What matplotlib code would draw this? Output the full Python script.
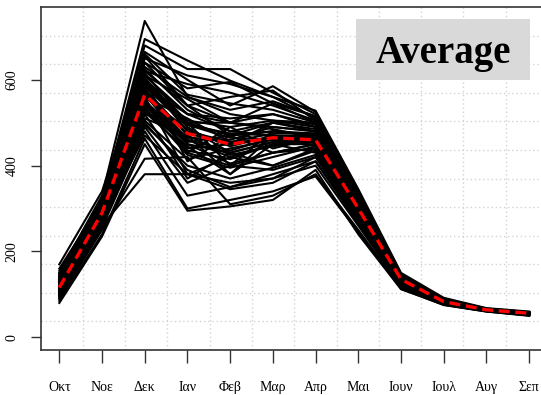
import numpy as np
import matplotlib
matplotlib.use('Agg')
import matplotlib.pyplot as plt
from matplotlib.patches import Rectangle

# hydrological year, Oct -> Sep
months = ['Οκτ', 'Νοε', 'Δεκ', 'Ιαν', 'Φεβ', 'Μαρ', 'Απρ', 'Μαι', 'Ιουν', 'Ιουλ', 'Αυγ', 'Σεπ']

# one row per year
years = [
    [150, 330, 737, 560, 520, 505, 500, 330, 140, 88, 66, 58],
    [140, 320, 695, 645, 598, 560, 528, 345, 150, 92, 68, 60],
    [160, 315, 680, 625, 625, 570, 520, 340, 148, 90, 67, 59],
    [130, 300, 665, 600, 540, 585, 525, 335, 145, 87, 66, 57],
    [120, 305, 650, 610, 590, 560, 510, 330, 142, 88, 65, 58],
    [170, 340, 640, 580, 595, 545, 500, 325, 140, 86, 64, 56],
    [110, 290, 630, 560, 530, 550, 515, 320, 138, 85, 64, 55],
    [100, 285, 620, 540, 560, 575, 505, 315, 136, 84, 63, 55],
    [135, 300, 610, 555, 500, 520, 490, 310, 135, 84, 64, 56],
    [125, 295, 600, 520, 480, 500, 480, 305, 134, 83, 63, 55],
    [118, 292, 590, 500, 470, 480, 470, 300, 133, 83, 64, 56],
    [105, 280, 575, 430, 490, 440, 465, 295, 132, 82, 63, 55],
    [145, 310, 560, 510, 455, 460, 455, 310, 137, 85, 65, 57],
    [112, 275, 545, 460, 420, 450, 450, 290, 130, 81, 63, 55],
    [128, 298, 585, 490, 430, 455, 470, 305, 134, 84, 64, 56],
    [98, 270, 530, 445, 380, 470, 445, 285, 128, 80, 62, 54],
    [155, 320, 615, 500, 500, 490, 480, 315, 140, 86, 65, 57],
    [108, 282, 555, 430, 400, 430, 440, 288, 129, 81, 63, 55],
    [132, 305, 600, 480, 455, 475, 475, 308, 136, 84, 64, 56],
    [90, 262, 520, 370, 430, 400, 435, 280, 126, 80, 62, 54],
    [122, 290, 570, 455, 470, 500, 485, 302, 134, 83, 64, 56],
    [140, 312, 625, 530, 480, 470, 460, 312, 138, 85, 65, 57],
    [115, 285, 540, 440, 450, 465, 455, 296, 132, 82, 63, 55],
    [102, 275, 510, 470, 380, 450, 430, 282, 127, 80, 62, 54],
    [138, 308, 595, 505, 490, 505, 490, 310, 137, 85, 65, 57],
    [126, 296, 580, 470, 425, 445, 460, 300, 133, 83, 64, 56],
    [110, 284, 565, 450, 405, 430, 450, 292, 131, 82, 63, 55],
    [150, 318, 610, 520, 510, 520, 495, 318, 141, 86, 66, 58],
    [95, 268, 495, 400, 370, 395, 425, 278, 125, 79, 62, 54],
    [120, 293, 560, 485, 445, 470, 465, 300, 134, 83, 64, 56],
    [132, 302, 640, 540, 470, 480, 475, 305, 136, 84, 64, 56],
    [116, 288, 550, 465, 460, 490, 480, 298, 133, 83, 63, 55],
    [104, 278, 525, 435, 415, 450, 455, 290, 130, 81, 63, 55],
    [142, 314, 605, 495, 465, 460, 470, 312, 138, 85, 65, 57],
    [124, 294, 585, 520, 500, 485, 465, 303, 135, 84, 64, 56],
    [112, 280, 535, 425, 395, 420, 445, 287, 129, 81, 63, 55],
    [136, 306, 570, 475, 450, 500, 500, 308, 136, 84, 64, 56],
    [98, 272, 505, 415, 440, 460, 460, 283, 128, 80, 62, 54],
    [128, 299, 590, 495, 475, 470, 470, 304, 135, 83, 64, 56],
    [108, 283, 545, 450, 430, 455, 455, 293, 131, 82, 63, 55],
    [95, 260, 380, 380, 360, 370, 400, 260, 118, 78, 61, 52],
    [90, 250, 416, 420, 310, 330, 380, 250, 115, 76, 60, 51],
    [85, 240, 463, 300, 320, 340, 375, 245, 113, 75, 60, 50],
    [80, 235, 450, 295, 305, 320, 390, 240, 112, 76, 61, 51],
    [100, 255, 480, 330, 350, 380, 410, 265, 120, 79, 62, 52],
    [130, 300, 660, 565, 545, 530, 500, 320, 140, 86, 65, 57],
    [118, 288, 500, 390, 350, 370, 420, 275, 124, 79, 62, 53],
    [145, 315, 620, 590, 570, 540, 505, 322, 141, 87, 66, 58],
    [100, 276, 470, 380, 345, 360, 410, 270, 122, 78, 61, 53],
    [126, 297, 575, 460, 435, 465, 460, 300, 133, 83, 64, 56],
    [114, 286, 600, 410, 470, 430, 450, 294, 131, 82, 63, 55],
    [134, 304, 520, 500, 400, 480, 470, 306, 136, 84, 64, 56],
    [106, 279, 560, 380, 420, 400, 440, 286, 129, 81, 62, 54],
    [148, 322, 655, 540, 500, 545, 515, 324, 143, 87, 66, 58],
    [92, 258, 490, 360, 400, 390, 420, 272, 123, 79, 61, 53],
]

avg = [116, 290, 565, 475, 450, 465, 460, 300, 135, 83, 64, 56]

y_ticks = [0, 200, 400, 600]

x = np.arange(1, len(months) + 1)

W, H = 541, 395
fig = plt.figure(figsize=(W / 100, H / 100), dpi=100)
fig.patch.set_facecolor('white')
ax = fig.add_axes([40.5 / W, 45 / H, 507.5 / W, 343 / H])

xlim = (0.56, 12.44)
ylim = (-29.6, 769.6)
ax.set_xlim(xlim)
ax.set_ylim(ylim)

# grid(12, 12) style: dotted light grey cells
for gx in np.linspace(xlim[0], xlim[1], 13)[1:-1]:
    ax.axvline(gx, color='#d3d3d3', lw=1.0, ls=(0, (1, 2)), zorder=0)
for gy in np.linspace(ylim[0], ylim[1], 13)[1:-1]:
    ax.axhline(gy, color='#d3d3d3', lw=1.0, ls=(0, (1, 2)), zorder=0)

for row in years:
    ax.plot(x, row, color='black', lw=1.5, zorder=2)

ax.plot(x, avg, color='#ff0000', lw=2.4, dashes=(3.3, 1.7), zorder=3)

ax.set_xticks(x)
ax.set_xticklabels(months, family='Liberation Serif', fontsize=10)
ax.set_yticks(y_ticks)
ax.set_yticklabels([str(v) for v in y_ticks], family='Liberation Serif',
                   fontsize=10, rotation=90, va='center')
ax.tick_params(axis='x', length=9, width=1.0, color='#333333', pad=13)
ax.tick_params(axis='y', length=7, width=1.0, color='#333333', pad=9)
for sp in ax.spines.values():
    sp.set_color('#333333')
    sp.set_linewidth(1.2)

# label box
fig.patches.append(Rectangle((356 / W, (H - 80) / H), 174 / W, 61 / H,
                             transform=fig.transFigure, facecolor='#d9d9d9',
                             edgecolor='none', zorder=5))
fig.text(443 / W, (H - 63) / H, 'Average', family='Liberation Serif',
         fontweight='bold', fontsize=28, ha='center', va='baseline', zorder=6)

fig.savefig('out.png', dpi=100)
